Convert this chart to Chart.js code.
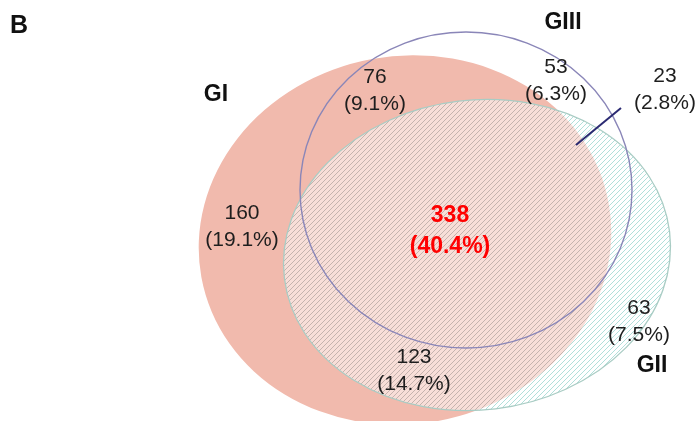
<!DOCTYPE html>
<html>
<head>
<meta charset="utf-8">
<script src="https://cdn.jsdelivr.net/npm/chart.js@4.4.1/dist/chart.umd.min.js"></script>
<style>
  html, body { margin: 0; padding: 0; background: #ffffff; }
  #wrap { width: 698px; height: 421px; }
</style>
</head>
<body>
<div id="wrap"><canvas id="venn" width="698" height="421"></canvas></div>
<script>
// Group names
const groups = ['GI', 'GII', 'GIII'];

// Region membership and gene counts
const regions = ['GI only', 'GI∩GIII', 'GIII only', 'GII∩GIII', 'GI∩GII∩GIII', 'GI∩GII', 'GII only'];
const regionCounts = [160, 76, 53, 23, 338, 123, 63];

// Percent of the total, one decimal
const total = regionCounts.reduce((a, b) => a + b, 0);
const regionPercents = regionCounts.map(v => (100 * v / total).toFixed(1));

// Set outlines in plot units (x: 0..698, y: 0..421 downward)
const shapes = {
  GI:   { cx: 405, cy: 240, rx: 207, ry: 184, rot: -0.18 },
  GII:  { cx: 477, cy: 255, rx: 194, ry: 155, rot: -0.12 },
  GIII: { cx: 466, cy: 190, rx: 166, ry: 158, rot: 0 }
};

// Label anchors for each region / group
const regionAnchors = [
  [242, 213], [375, 77], [556, 67], [665, 76], [450, 216], [414, 357], [639, 308]
];
const groupAnchors = { GI: [216, 95], GII: [652, 366], GIII: [563, 23] };
const leader = [[576, 145], [621, 108]];

const W = 698, H = 421;

function ellipseGeom(s, xs, ys) {
  const cx = xs.getPixelForValue(s.cx), cy = ys.getPixelForValue(s.cy);
  const rx = Math.abs(xs.getPixelForValue(s.cx + s.rx) - cx);
  const ry = Math.abs(ys.getPixelForValue(s.cy + s.ry) - cy);
  return [cx, cy, rx, ry, s.rot];
}

function ellipsePath(ctx, s, xs, ys) {
  const [cx, cy, rx, ry, rot] = ellipseGeom(s, xs, ys);
  ctx.beginPath();
  ctx.ellipse(cx, cy, rx, ry, rot, 0, Math.PI * 2);
}

function hatch(ctx, color, gap, width) {
  ctx.strokeStyle = color;
  ctx.lineWidth = width;
  ctx.beginPath();
  for (let x = -H; x < W + H; x += gap) {
    ctx.moveTo(x, H);
    ctx.lineTo(x + H, 0);
  }
  ctx.stroke();
}

const vennPlugin = {
  id: 'vennSets',
  beforeDatasetsDraw(chart) {
    const ctx = chart.ctx;
    const xs = chart.scales.x, ys = chart.scales.y;

    // GI: solid salmon
    ctx.save();
    ellipsePath(ctx, shapes.GI, xs, ys);
    ctx.fillStyle = '#f1baad';
    ctx.fill();
    ctx.restore();

    // GII: light wash + diagonal hatch
    ctx.save();
    ellipsePath(ctx, shapes.GII, xs, ys);
    ctx.clip();
    ctx.fillStyle = 'rgba(255,255,255,0.52)';
    ctx.fillRect(0, 0, W, H);
    // hatch inside GI
    ctx.save();
    ellipsePath(ctx, shapes.GI, xs, ys);
    ctx.clip();
    hatch(ctx, 'rgba(120,115,112,0.4)', 5, 1);
    ctx.restore();
    // hatch outside GI
    ctx.save();
    ctx.beginPath();
    ctx.rect(0, 0, W, H);
    const [gx, gy, grx, gry, grot] = ellipseGeom(shapes.GI, xs, ys);
    ctx.ellipse(gx, gy, grx, gry, grot, 0, Math.PI * 2, true);
    ctx.clip('evenodd');
    hatch(ctx, 'rgba(150,212,206,0.75)', 5, 1);
    ctx.restore();
    ctx.restore();

    ctx.save();
    ellipsePath(ctx, shapes.GII, xs, ys);
    ctx.strokeStyle = '#a9ccc4';
    ctx.lineWidth = 1.3;
    ctx.stroke();
    ctx.restore();

    // GIII: outline only
    ctx.save();
    ellipsePath(ctx, shapes.GIII, xs, ys);
    ctx.strokeStyle = '#8a86b8';
    ctx.lineWidth = 1.4;
    ctx.stroke();
    ctx.restore();

    // leader line for the small GII∩GIII region
    ctx.save();
    ctx.strokeStyle = '#2b2a72';
    ctx.lineWidth = 2;
    ctx.beginPath();
    ctx.moveTo(xs.getPixelForValue(leader[0][0]), ys.getPixelForValue(leader[0][1]));
    ctx.lineTo(xs.getPixelForValue(leader[1][0]), ys.getPixelForValue(leader[1][1]));
    ctx.stroke();
    ctx.restore();
  },
  afterDatasetsDraw(chart) {
    const ctx = chart.ctx;
    const xs = chart.scales.x, ys = chart.scales.y;
    ctx.save();
    ctx.textAlign = 'center';
    ctx.textBaseline = 'middle';

    regionCounts.forEach((v, i) => {
      const [ax, ay] = regionAnchors[i];
      const px = xs.getPixelForValue(ax), py = ys.getPixelForValue(ay);
      const core = i === 4;
      ctx.fillStyle = core ? '#ff0000' : '#1e1e1e';
      ctx.font = core ? 'bold 23px "Liberation Sans", Arial, sans-serif'
                      : '21px "Liberation Sans", Arial, sans-serif';
      ctx.fillText(String(v), px, py);
      ctx.fillText('(' + regionPercents[i] + '%)', px, py + (core ? 31 : 27));
    });

    ctx.fillStyle = '#111111';
    ctx.font = 'bold 23px "Liberation Sans", Arial, sans-serif';
    groups.forEach(gname => {
      const [ax, ay] = groupAnchors[gname];
      ctx.fillText(gname, xs.getPixelForValue(ax), ys.getPixelForValue(ay));
    });

    // panel letter
    ctx.textAlign = 'left';
    ctx.font = 'bold 25px "Liberation Sans", Arial, sans-serif';
    ctx.fillText('B', 10, 26);
    ctx.restore();
  }
};

new Chart(document.getElementById('venn'), {
  type: 'scatter',
  data: {
    datasets: groups.map(gname => ({
      label: gname,
      data: [{ x: shapes[gname].cx, y: shapes[gname].cy }],
      pointRadius: 0,
      pointHoverRadius: 0
    }))
  },
  options: {
    responsive: false,
    animation: false,
    events: [],
    layout: { padding: 0 },
    plugins: { legend: { display: false }, tooltip: { enabled: false } },
    scales: {
      x: { type: 'linear', min: 0, max: W, display: false },
      y: { type: 'linear', min: 0, max: H, reverse: true, display: false }
    }
  },
  plugins: [vennPlugin]
});
</script>
</body>
</html>
